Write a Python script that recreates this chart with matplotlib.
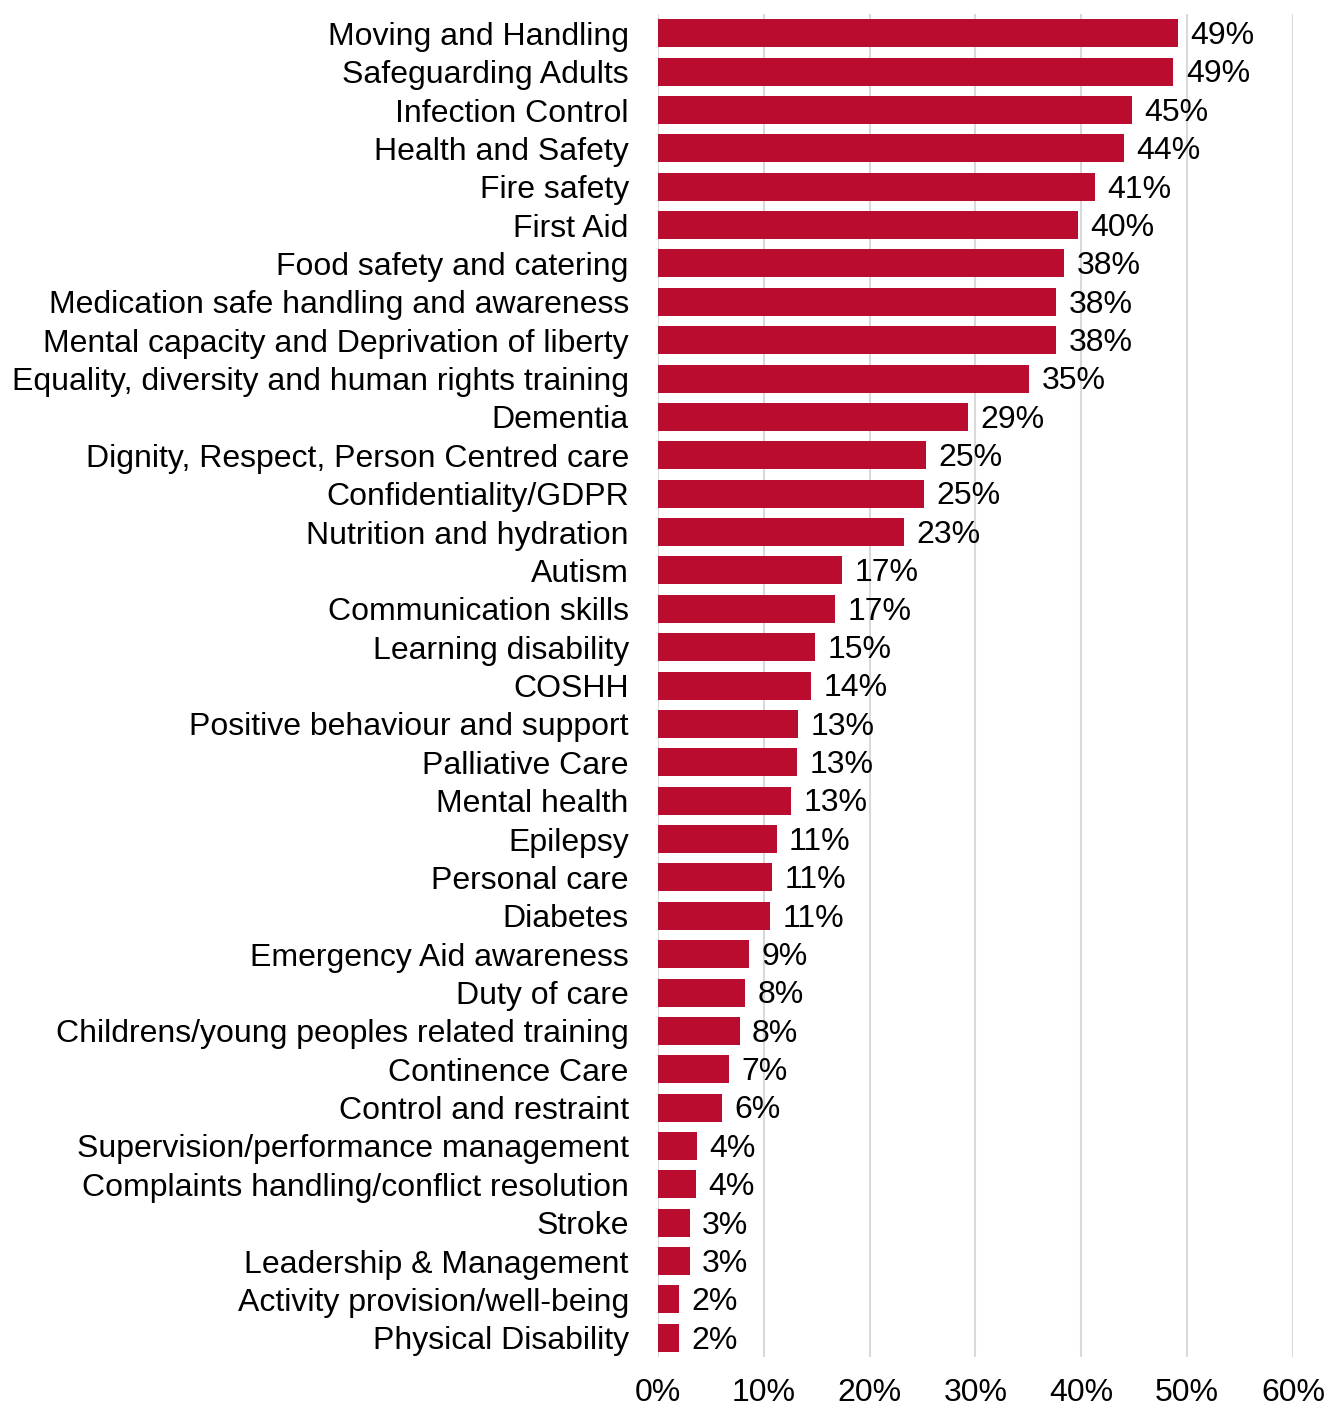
import matplotlib.pyplot as plt
from matplotlib.ticker import PercentFormatter

# training topics, top to bottom
topics = [
    'Moving and Handling', 'Safeguarding Adults', 'Infection Control',
    'Health and Safety', 'Fire safety', 'First Aid',
    'Food safety and catering', 'Medication safe handling and awareness',
    'Mental capacity and Deprivation of liberty',
    'Equality, diversity and human rights training', 'Dementia',
    'Dignity, Respect, Person Centred care', 'Confidentiality/GDPR',
    'Nutrition and hydration', 'Autism', 'Communication skills',
    'Learning disability', 'COSHH', 'Positive behaviour and support',
    'Palliative Care', 'Mental health', 'Epilepsy', 'Personal care',
    'Diabetes', 'Emergency Aid awareness', 'Duty of care',
    'Childrens/young peoples related training', 'Continence Care',
    'Control and restraint', 'Supervision/performance management',
    'Complaints handling/conflict resolution', 'Stroke',
    'Leadership & Management', 'Activity provision/well-being',
    'Physical Disability',
]
shares = [
    0.491, 0.487, 0.448, 0.440, 0.413, 0.397, 0.384, 0.376, 0.376, 0.351,
    0.293, 0.253, 0.251, 0.232, 0.174, 0.167, 0.148, 0.145, 0.132, 0.131,
    0.126, 0.112, 0.108, 0.106, 0.086, 0.082, 0.077, 0.067, 0.060, 0.037,
    0.036, 0.030, 0.030, 0.020, 0.020,
]

plt.rcParams['font.family'] = ['Liberation Sans', 'DejaVu Sans']

fig = plt.figure(figsize=(13.28, 14.08), dpi=100)
ax = fig.add_axes([0.4955, 0.0362, 0.4781, 0.9538])

pos = list(range(len(topics)))
ax.barh(pos, shares, height=0.73, color='#BA0C2F', zorder=3)
for y, v in zip(pos, shares):
    ax.annotate('{:.0%}'.format(v), (v, y), xytext=(9, -2),
                textcoords='offset points', va='center', ha='left',
                fontsize=23)

ax.set_ylim(len(topics) - 0.5, -0.5)
ax.set_yticks(pos)
ax.set_yticklabels(topics, fontsize=23)
ax.set_xlim(0, 0.6)
ax.set_xticks([0, 0.1, 0.2, 0.3, 0.4, 0.5, 0.6])
ax.xaxis.set_major_formatter(PercentFormatter(1.0, decimals=0))
ax.tick_params(axis='x', length=0, labelsize=23, pad=15)
ax.tick_params(axis='y', length=0, pad=21)
ax.grid(axis='x', color='#d9d9d9', linewidth=1.5, zorder=0)
for s in ax.spines.values():
    s.set_visible(False)

plt.savefig('out.png')
